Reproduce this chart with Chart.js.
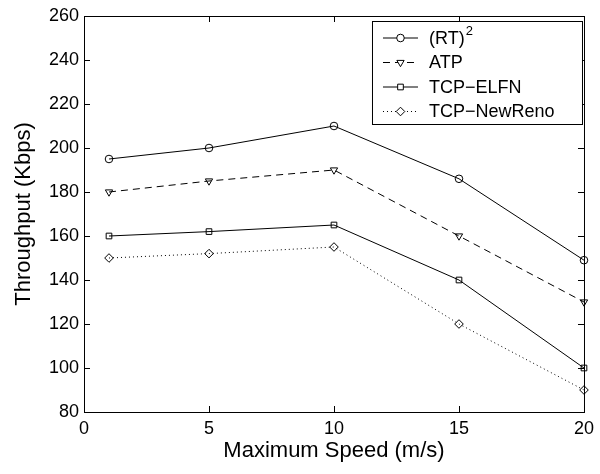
<!DOCTYPE html>
<html>
<head>
<meta charset="utf-8">
<script src="https://cdn.jsdelivr.net/npm/chart.js@4.4.1/dist/chart.umd.min.js"></script>
<style>
  html, body { margin: 0; padding: 0; background: #fff; }
  #wrap { width: 600px; height: 474px; }
</style>
</head>
<body>
<div id="wrap"><canvas id="chart" width="600" height="474"></canvas></div>
<script>
// valores
const speeds = [1, 5, 10, 15, 20];
const rt2Values = [195, 200, 210, 186, 149];
const atpValues = [180, 185, 190, 160, 130];
const elfnValues = [160, 162, 165, 140, 100];
const newRenoValues = [150, 152, 155, 120, 90];
const xTicks = [0, 5, 10, 15, 20];
const yTicks = [80, 100, 120, 140, 160, 180, 200, 220, 240, 260];

const FONT = "'Liberation Sans', Arial, Helvetica, sans-serif";

function toPoints(values) {
  return speeds.map((s, i) => ({ x: s, y: values[i] }));
}

function makeDataset(label, values, style, radius, dash, rotation) {
  return {
    label: label,
    data: toPoints(values),
    borderColor: '#000',
    backgroundColor: '#fff',
    borderWidth: 1,
    borderDash: dash,
    pointStyle: style,
    pointRotation: rotation || 0,
    pointRadius: radius,
    pointBorderColor: '#000',
    pointBackgroundColor: 'rgba(0,0,0,0)',
    pointBorderWidth: 1,
    tension: 0
  };
}

// marco con marcas hacia dentro (estilo matlab)
const framePlugin = {
  id: 'frame',
  afterDraw(chart) {
    const { ctx, chartArea: a, scales } = chart;
    ctx.save();
    ctx.strokeStyle = '#000';
    ctx.lineWidth = 1;
    ctx.strokeRect(a.left + 0.5, a.top + 0.5, a.right - a.left, a.bottom - a.top);
    const len = 6;
    ctx.beginPath();
    xTicks.forEach(v => {
      const px = Math.round(scales.x.getPixelForValue(v)) + 0.5;
      ctx.moveTo(px, a.bottom); ctx.lineTo(px, a.bottom - len);
      ctx.moveTo(px, a.top); ctx.lineTo(px, a.top + len);
    });
    yTicks.forEach(v => {
      const py = Math.round(scales.y.getPixelForValue(v)) + 0.5;
      ctx.moveTo(a.left, py); ctx.lineTo(a.left + len, py);
      ctx.moveTo(a.right, py); ctx.lineTo(a.right - len, py);
    });
    ctx.stroke();
    ctx.restore();
  }
};

// leyenda propia con muestra de linea y marcador
const legendPlugin = {
  id: 'boxLegend',
  afterDraw(chart) {
    const { ctx, chartArea: a } = chart;
    const boxW = 210, boxH = 103;
    const bx = a.right - 2 - boxW, by = a.top + 5;
    ctx.save();
    ctx.fillStyle = '#fff';
    ctx.fillRect(bx, by, boxW, boxH);
    ctx.strokeStyle = '#000';
    ctx.lineWidth = 1;
    ctx.strokeRect(bx + 0.5, by + 0.5, boxW, boxH);
    chart.data.datasets.forEach((ds, i) => {
      const y = by + 17 + i * 24.5;
      ctx.save();
      ctx.strokeStyle = '#000';
      ctx.lineWidth = 1;
      ctx.setLineDash(ds.borderDash || []);
      ctx.beginPath();
      ctx.moveTo(bx + 11, y);
      ctx.lineTo(bx + 46, y);
      ctx.stroke();
      ctx.restore();
      ctx.fillStyle = '#fff';
      ctx.strokeStyle = '#000';
      Chart.helpers.drawPoint(ctx, {
        pointStyle: ds.pointStyle,
        rotation: ds.pointRotation,
        radius: ds.pointRadius,
        borderWidth: 1
      }, bx + 28.5, y);
      ctx.fillStyle = '#000';
      ctx.font = '18px ' + FONT;
      ctx.textBaseline = 'middle';
      ctx.textAlign = 'left';
      const tx = bx + 57;
      if (ds.label === '(RT)2') {
        ctx.fillText('(RT)', tx, y + 1);
        const w = ctx.measureText('(RT)').width;
        ctx.font = '13px ' + FONT;
        ctx.fillText('2', tx + w + 1, y - 7);
      } else {
        ctx.fillText(ds.label, tx, y + 1);
      }
    });
    ctx.restore();
  }
};

const ctx = document.getElementById('chart').getContext('2d');
const chart = new Chart(ctx, {
  type: 'line',
  data: {
    datasets: [
      makeDataset('(RT)2', rt2Values, 'circle', 3.8, []),
      makeDataset('ATP', atpValues, 'triangle', 4.2, [7, 5], 180),
      makeDataset('TCP\u2212ELFN', elfnValues, 'rect', 4, []),
      makeDataset('TCP\u2212NewReno', newRenoValues, 'rectRot', 4.3, [1, 3])
    ]
  },
  options: {
    responsive: false,
    animation: false,
    clip: false,
    layout: { padding: { top: 16, right: 15, left: 0, bottom: 0 } },
    plugins: {
      legend: { display: false },
      tooltip: { enabled: false }
    },
    scales: {
      x: {
        type: 'linear',
        min: 0,
        max: 20,
        afterBuildTicks(scale) { scale.ticks = xTicks.map(v => ({ value: v })); },
        afterFit(scale) { scale.height = 62; },
        grid: { display: false, drawTicks: false },
        border: { display: false },
        ticks: { color: '#000', font: { family: FONT, size: 18 }, padding: 6, maxRotation: 0 },
        title: { display: true, text: 'Maximum Speed (m/s)', color: '#000', font: { family: FONT, size: 22 }, padding: { top: 10, bottom: 10 } }
      },
      y: {
        type: 'linear',
        min: 80,
        max: 260,
        afterBuildTicks(scale) { scale.ticks = yTicks.map(v => ({ value: v })); },
        afterFit(scale) { scale.width = 84; },
        grid: { display: false, drawTicks: false },
        border: { display: false },
        ticks: { color: '#000', font: { family: FONT, size: 18 }, padding: 5 },
        title: { display: true, text: 'Throughput (Kbps)', color: '#000', font: { family: FONT, size: 22 }, padding: { top: 11, bottom: 11 } }
      }
    }
  },
  plugins: [framePlugin, legendPlugin]
});
</script>
</body>
</html>
